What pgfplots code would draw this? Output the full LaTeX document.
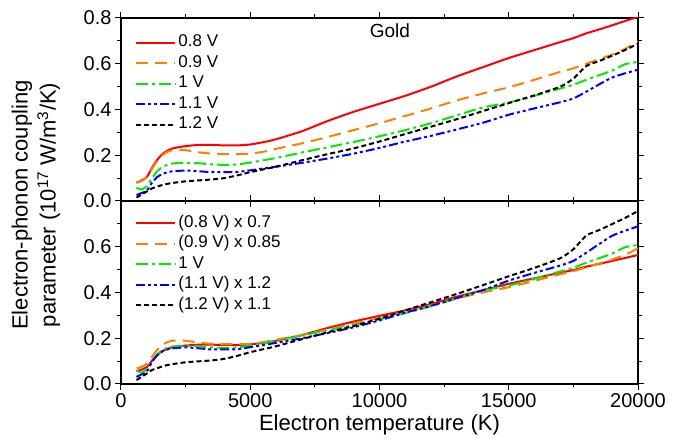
\documentclass[border=0pt]{standalone}
\usepackage{fontspec}
\setmainfont{Liberation Sans}
\usepackage{pgfplots}
\usepackage{pgfplotstable}
\pgfplotsset{compat=1.18}
\usepgfplotslibrary{groupplots}
\usetikzlibrary{calc}

\definecolor{cred}{RGB}{255,0,0}
\definecolor{corange}{RGB}{255,128,0}
\definecolor{cgreen}{RGB}{0,235,0}
\definecolor{cblue}{RGB}{0,0,255}

\pgfplotstableread{
T r o g b k
600 0.080 0.080 0.058 0.026 0.015
800 0.090 0.088 0.050 0.035 0.028
1000 0.105 0.105 0.065 0.045 0.042
1200 0.145 0.140 0.100 0.080 0.055
1400 0.180 0.175 0.130 0.105 0.063
1600 0.205 0.200 0.148 0.118 0.070
1800 0.220 0.215 0.158 0.126 0.075
2000 0.230 0.222 0.164 0.130 0.079
2500 0.240 0.222 0.167 0.133 0.086
3000 0.245 0.213 0.165 0.130 0.090
3500 0.245 0.207 0.160 0.126 0.094
4000 0.243 0.205 0.158 0.126 0.100
4500 0.243 0.205 0.160 0.127 0.112
5000 0.247 0.207 0.168 0.134 0.126
5500 0.257 0.215 0.178 0.142 0.138
6000 0.270 0.228 0.188 0.150 0.150
7000 0.305 0.252 0.212 0.167 0.178
8000 0.350 0.280 0.235 0.186 0.205
9000 0.390 0.310 0.258 0.207 0.230
10000 0.425 0.340 0.283 0.232 0.260
11000 0.460 0.372 0.310 0.260 0.293
12000 0.500 0.405 0.340 0.285 0.325
13000 0.545 0.440 0.375 0.313 0.358
14000 0.585 0.470 0.409 0.342 0.393
15000 0.625 0.497 0.430 0.377 0.428
16000 0.660 0.530 0.460 0.405 0.462
17000 0.695 0.565 0.492 0.432 0.500
17500 0.712 0.580 0.508 0.448 0.535
18000 0.733 0.600 0.530 0.478 0.590
18500 0.750 0.620 0.550 0.510 0.612
19000 0.768 0.640 0.570 0.540 0.635
19500 0.787 0.665 0.598 0.558 0.660
20000 0.805 0.697 0.608 0.574 0.687
}\toptable

\pgfplotstableread{
T r o g b k
600 0.056 0.068 0.058 0.031 0.017
800 0.063 0.075 0.050 0.042 0.031
1000 0.074 0.089 0.065 0.054 0.046
1200 0.102 0.119 0.100 0.096 0.061
1400 0.126 0.149 0.130 0.126 0.069
1600 0.144 0.170 0.148 0.142 0.077
1800 0.154 0.183 0.158 0.151 0.083
2000 0.161 0.189 0.164 0.156 0.087
2500 0.168 0.189 0.167 0.160 0.095
3000 0.172 0.181 0.165 0.156 0.099
3500 0.172 0.176 0.160 0.151 0.103
4000 0.170 0.174 0.158 0.151 0.110
4500 0.170 0.174 0.160 0.152 0.123
5000 0.173 0.176 0.168 0.161 0.139
5500 0.180 0.183 0.178 0.170 0.152
6000 0.189 0.194 0.188 0.180 0.165
7000 0.214 0.214 0.212 0.200 0.196
8000 0.245 0.238 0.235 0.223 0.226
9000 0.273 0.264 0.258 0.248 0.253
10000 0.298 0.289 0.283 0.278 0.286
11000 0.322 0.316 0.310 0.312 0.322
12000 0.350 0.344 0.340 0.342 0.358
13000 0.382 0.374 0.375 0.376 0.394
14000 0.410 0.400 0.409 0.410 0.432
15000 0.438 0.423 0.430 0.452 0.471
16000 0.462 0.451 0.460 0.486 0.508
17000 0.487 0.480 0.492 0.518 0.550
17500 0.498 0.493 0.508 0.538 0.589
18000 0.513 0.510 0.530 0.574 0.649
18500 0.525 0.527 0.550 0.612 0.673
19000 0.538 0.544 0.570 0.648 0.699
19500 0.551 0.565 0.598 0.670 0.726
20000 0.564 0.593 0.608 0.689 0.756
}\bottable

\tikzset{
  sred/.style={cred, line width=2pt, solid},
  sorange/.style={corange, line width=2pt, dash pattern=on 12pt off 7pt},
  sgreen/.style={cgreen, line width=2pt, dash pattern=on 12pt off 4pt on 3pt off 4pt},
  sblue/.style={cblue, line width=2pt, dash pattern=on 9pt off 3pt on 3pt off 3pt on 3pt off 3pt},
  sblack/.style={black, line width=2pt, dash pattern=on 5pt off 3pt},
}

\begin{document}
\begin{tikzpicture}
\begin{groupplot}[
  group style={group size=1 by 2, vertical sep=0pt},
  scale only axis,
  width=517pt, height=183pt,
  xmin=0, xmax=20000, ymin=0, ymax=0.8,
  xtick={0,5000,10000,15000,20000},
  minor xtick={2500,7500,12500,17500},
  minor ytick={0.1,0.3,0.5,0.7},
  tick align=outside,
  major tick length=6pt, minor tick length=3.5pt,
  axis line style={line width=1.1pt},
  every tick/.style={line width=1pt, black},
  scaled ticks=false,
  tick label style={font=\fontsize{20}{24}\selectfont},
  /pgf/number format/assume math mode=true,
  xticklabel style={/pgf/number format/.cd, set thousands separator={}, fixed},
  yticklabel style={/pgf/number format/.cd, fixed, fixed zerofill, precision=1},
  legend cell align=left,
  legend style={draw=none, fill=none, anchor=north west,
    font=\fontsize{17}{20}\selectfont,
    nodes={text height=12.3pt, text depth=4pt, inner sep=2.1pt}},
  legend image code/.code={\draw[#1, line width=2pt] (0cm,0cm) -- (1.4cm,0cm);},
  every axis plot/.append style={smooth, tension=0.35},
]
\nextgroupplot[xticklabels={}, ytick={0,0.2,0.4,0.6,0.8},
  legend style={at={(0.02,0.934)}}]
\addplot[sred] table[x=T,y=r]{\toptable};
\addlegendentry{0.8 V}
\addplot[sorange] table[x=T,y=o]{\toptable};
\addlegendentry{0.9 V}
\addplot[sgreen] table[x=T,y=g]{\toptable};
\addlegendentry{1 V}
\addplot[sblue] table[x=T,y=b]{\toptable};
\addlegendentry{1.1 V}
\addplot[sblack] table[x=T,y=k]{\toptable};
\addlegendentry{1.2 V}
\node[font=\fontsize{19}{22}\selectfont] at (axis cs:10400,0.745) {Gold};
\coordinate (mid) at (rel axis cs:0,0);
\path (rel axis cs:1,1) ++(55pt,18pt) coordinate (tr);

\nextgroupplot[ytick={0,0.2,0.4,0.6},
  legend style={at={(0.02,0.947)}},
  xlabel={Electron temperature (K)},
  xlabel style={font=\fontsize{22}{26}\selectfont, yshift=0pt}]
\addplot[sred] table[x=T,y=r]{\bottable};
\addlegendentry{(0.8 V) x 0.7}
\addplot[sorange] table[x=T,y=o]{\bottable};
\addlegendentry{(0.9 V) x 0.85}
\addplot[sgreen] table[x=T,y=g]{\bottable};
\addlegendentry{1 V}
\addplot[sblue] table[x=T,y=b]{\bottable};
\addlegendentry{(1.1 V) x 1.2}
\addplot[sblack] table[x=T,y=k]{\bottable};
\addlegendentry{(1.2 V) x 1.1}
\path (rel axis cs:0,0) ++(-121pt,-62pt) coordinate (bl);
\end{groupplot}
\node[rotate=90, align=center, font=\fontsize{22}{28}\selectfont] at ([xshift=-85pt,yshift=-4pt]mid)
  {Electron-phonon coupling\\parameter (10\textsuperscript{17} W/m\textsuperscript{3}/K)};
\path (bl) rectangle (tr);
\end{tikzpicture}
\end{document}
